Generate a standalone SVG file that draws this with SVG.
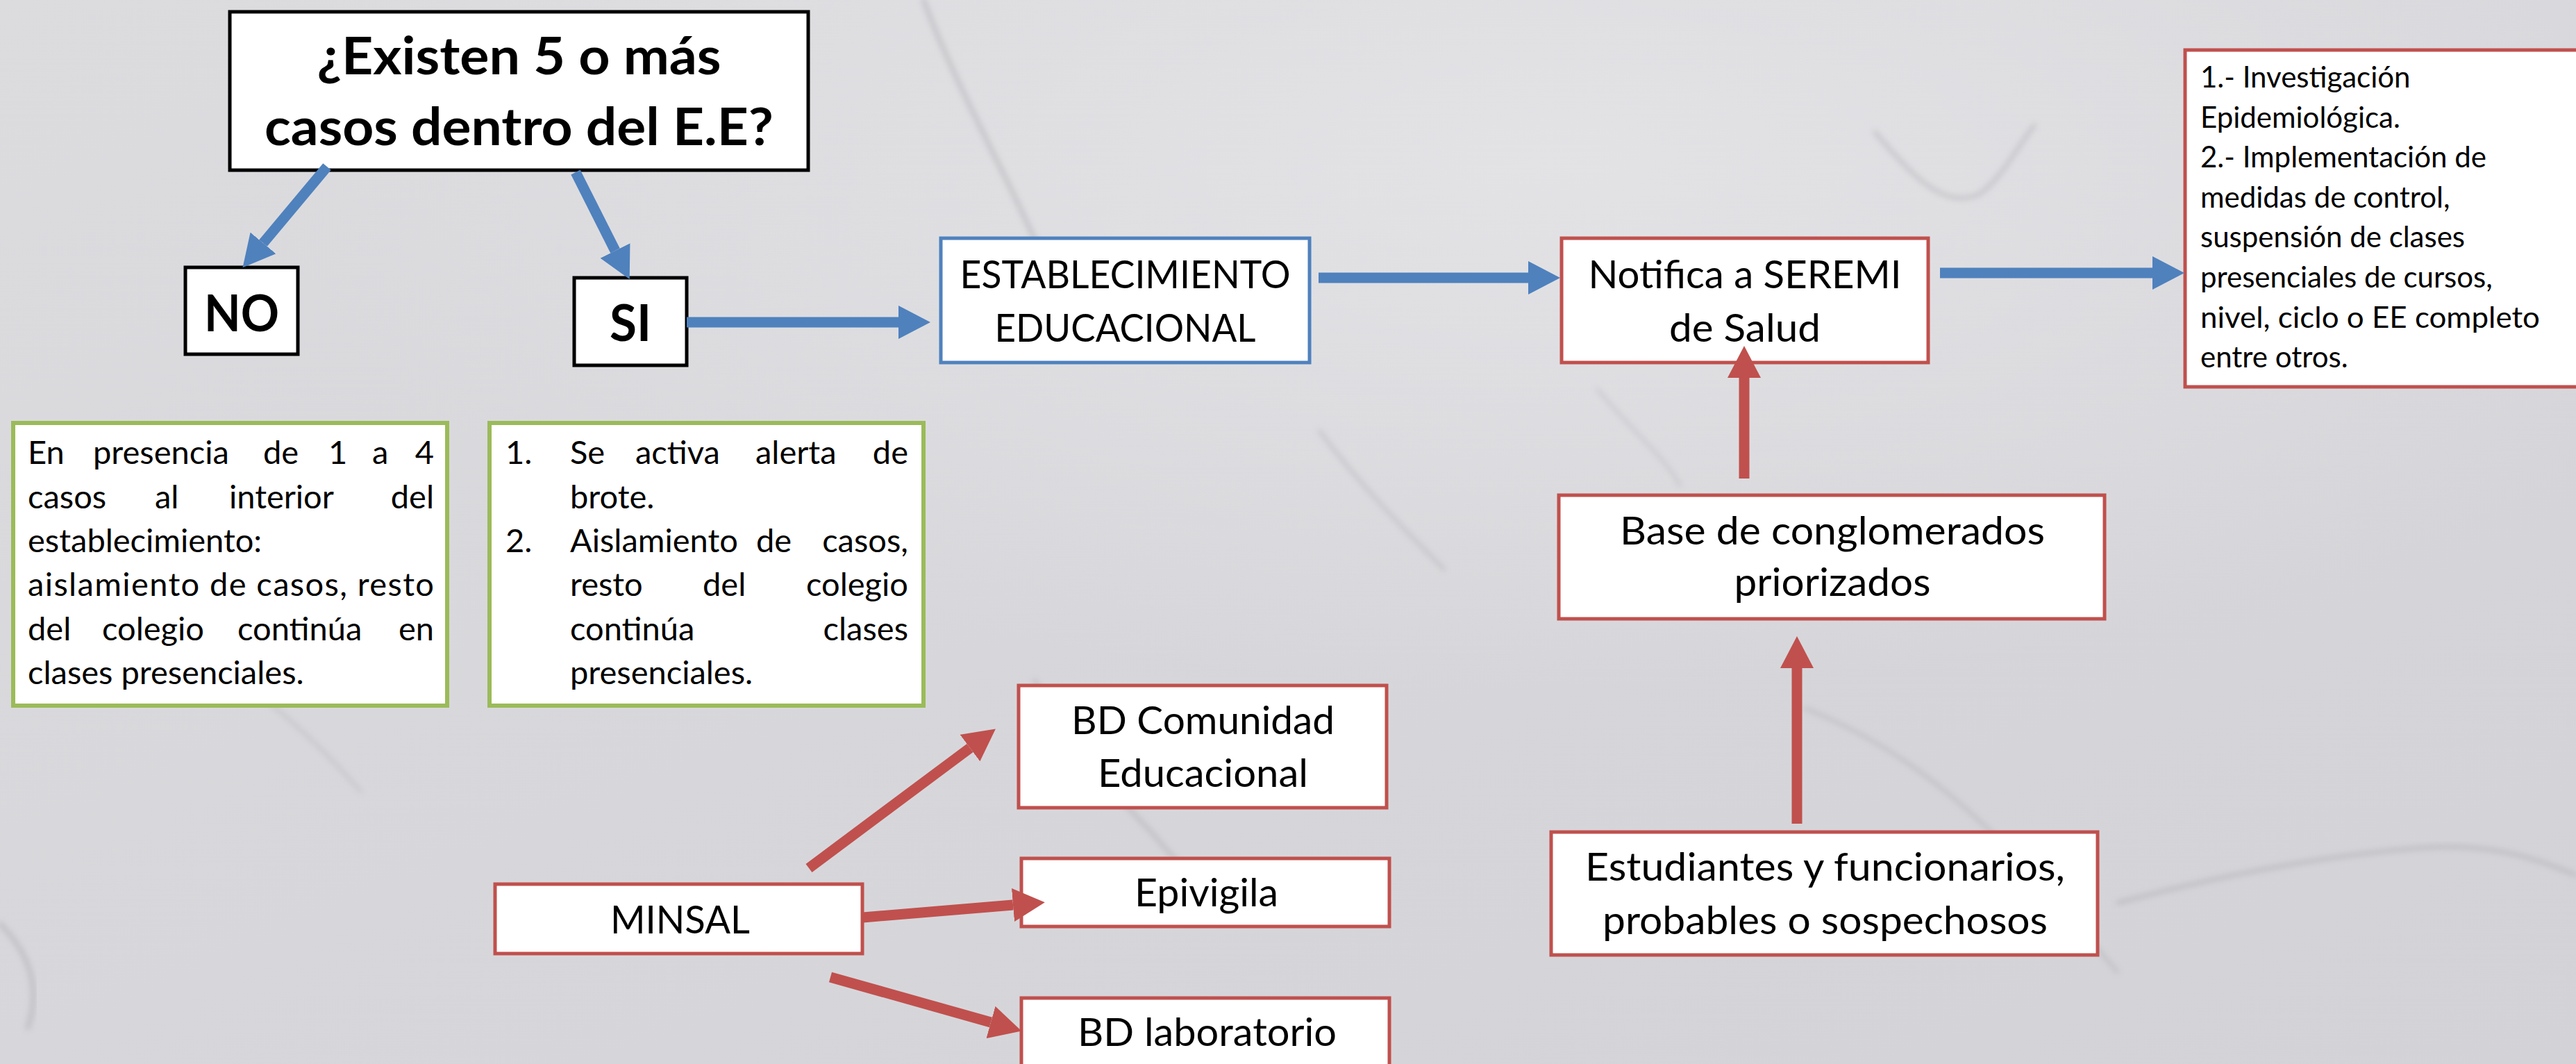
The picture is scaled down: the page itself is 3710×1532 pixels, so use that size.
<svg xmlns="http://www.w3.org/2000/svg" width="3710" height="1532" viewBox="0 0 3710 1532">
<style>
  .t { font-family: Lato, "Open Sans", "Liberation Sans", sans-serif; fill: #000; }
  .b { font-weight: bold; }
  .c { text-anchor: middle; }
  .e { text-anchor: end; }
  .kbox { fill: #fff; stroke: #000; stroke-width: 5; }
  .bbox { fill: #fff; stroke: #4F81BD; stroke-width: 5; }
  .rbox { fill: #fff; stroke: #C0504D; stroke-width: 5; }
  .gbox { fill: #fff; stroke: #9BBB59; stroke-width: 6; }
  .bl { fill: none; stroke: #4F81BD; stroke-width: 15; marker-end: url(#hb); }
  .rl { fill: none; stroke: #C0504D; stroke-width: 15; marker-end: url(#hr); }
  .vein { fill: none; stroke: #8a8a90; stroke-linecap: round; opacity: 0.35; filter: url(#blur); }
</style>
<defs>
  <linearGradient id="bg" x1="0" y1="0" x2="1" y2="1">
    <stop offset="0" stop-color="#dcdcdf"/>
    <stop offset="0.5" stop-color="#d7d7db"/>
    <stop offset="1" stop-color="#d3d3d7"/>
  </linearGradient>
  <radialGradient id="glow" cx="0.6" cy="0.15" r="0.5">
    <stop offset="0" stop-color="#e4e4e7" stop-opacity="0.9"/>
    <stop offset="1" stop-color="#e4e4e7" stop-opacity="0"/>
  </radialGradient>
  <filter id="blur" x="-10%" y="-10%" width="120%" height="120%"><feGaussianBlur stdDeviation="4"/></filter>
  <marker id="hb" markerUnits="userSpaceOnUse" markerWidth="46" markerHeight="48" viewBox="0 0 46 48" refX="0" refY="24" orient="auto">
    <path d="M0,0 L46,24 L0,48 Z" fill="#4F81BD"/>
  </marker>
  <marker id="hr" markerUnits="userSpaceOnUse" markerWidth="46" markerHeight="48" viewBox="0 0 46 48" refX="0" refY="24" orient="auto">
    <path d="M0,0 L46,24 L0,48 Z" fill="#C0504D"/>
  </marker>
</defs>

<g id="background">
  <rect x="0" y="0" width="3710" height="1532" fill="url(#bg)"/>
  <rect x="0" y="0" width="3710" height="1532" fill="url(#glow)"/>
  <path class="vein" stroke-width="6" d="M1330,0 C1360,80 1400,160 1450,260 C1490,340 1520,420 1560,470"/>
  <path class="vein" stroke-width="5" d="M2700,190 C2760,260 2800,300 2850,280 C2880,260 2900,220 2930,180"/>
  <path class="vein" stroke-width="5" d="M1490,980 C1540,1060 1600,1140 1660,1200 C1700,1250 1740,1280 1770,1320"/>
  <path class="vein" stroke-width="6" d="M0,1330 C40,1370 60,1420 40,1480"/>
  <path class="vein" stroke-width="4" d="M2600,1020 C2700,1060 2790,1120 2880,1210 C2940,1270 2990,1330 3050,1400"/>
  <path class="vein" stroke-width="5" d="M3050,1300 C3200,1260 3350,1230 3500,1220 C3600,1215 3660,1240 3710,1260"/>
  <path class="vein" stroke-width="3" d="M2300,560 C2350,620 2400,660 2420,700"/>
  <path class="vein" stroke-width="4" d="M1900,620 C1960,700 2020,760 2080,820"/>
  <path class="vein" stroke-width="3" d="M300,950 C380,1000 450,1060 520,1140"/>
</g>

<g id="node-pregunta">
  <rect class="kbox" x="331" y="17" width="833" height="228"/>
  <text class="t b c" x="747.5" y="107" font-size="75" textLength="582" lengthAdjust="spacingAndGlyphs">¿Existen 5 o más</text>
  <text class="t b c" x="747.5" y="209" font-size="75" textLength="733" lengthAdjust="spacingAndGlyphs">casos dentro del E.E?</text>
</g>

<g id="node-no">
  <rect class="kbox" x="267" y="385" width="162" height="125"/>
  <text class="t b c" x="348" y="477" font-size="73" textLength="108" lengthAdjust="spacingAndGlyphs">NO</text>
</g>

<g id="node-si">
  <rect class="kbox" x="827" y="400" width="162" height="126"/>
  <text class="t b c" x="908" y="491" font-size="73" textLength="60" lengthAdjust="spacingAndGlyphs">SI</text>
</g>

<g id="node-no-detalle">
  <rect class="gbox" x="19" y="609" width="625" height="407"/>
  <g class="t" font-size="47">
    <text x="40" y="668">En</text><text x="134" y="668">presencia</text><text x="379" y="668">de</text><text x="473" y="668">1</text><text x="536" y="668">a</text><text class="e" x="625" y="668">4</text>
    <text x="40" y="732">casos</text><text x="223" y="732">al</text><text x="330" y="732">interior</text><text class="e" x="625" y="732">del</text>
    <text x="40" y="795">establecimiento:</text>
    <text x="40" y="858" textLength="585" lengthAdjust="spacing">aislamiento de casos, resto</text>
    <text x="40" y="922">del</text><text x="147" y="922">colegio</text><text x="342" y="922">continúa</text><text class="e" x="625" y="922">en</text>
    <text x="40" y="985">clases presenciales.</text>
  </g>
</g>

<g id="node-si-detalle">
  <rect class="gbox" x="705" y="609" width="625" height="407"/>
  <g class="t" font-size="47">
    <text x="728" y="668">1.</text><text x="821" y="668">Se</text><text x="915" y="668">activa</text><text x="1088" y="668">alerta</text><text class="e" x="1308" y="668">de</text>
    <text x="821" y="732">brote.</text>
    <text x="728" y="795">2.</text><text x="821" y="795">Aislamiento</text><text x="1089" y="795">de</text><text class="e" x="1308" y="795">casos,</text>
    <text x="821" y="858">resto</text><text x="1012" y="858">del</text><text class="e" x="1308" y="858">colegio</text>
    <text x="821" y="922">continúa</text><text class="e" x="1308" y="922">clases</text>
    <text x="821" y="985">presenciales.</text>
  </g>
</g>

<g id="node-establecimiento">
  <rect class="bbox" x="1355" y="343" width="531" height="179"/>
  <text class="t c" x="1620.5" y="415" font-size="56" textLength="476" lengthAdjust="spacingAndGlyphs">ESTABLECIMIENTO</text>
  <text class="t c" x="1620.5" y="492" font-size="56" textLength="376" lengthAdjust="spacingAndGlyphs">EDUCACIONAL</text>
</g>

<g id="node-seremi">
  <rect class="rbox" x="2249" y="343" width="528" height="179"/>
  <text class="t c" x="2513" y="415" font-size="56" textLength="451" lengthAdjust="spacingAndGlyphs">Notifica a SEREMI</text>
  <text class="t c" x="2513" y="492" font-size="56" textLength="218" lengthAdjust="spacingAndGlyphs">de Salud</text>
</g>

<g id="node-medidas">
  <rect class="rbox" x="3147" y="72" width="580" height="485"/>
  <g class="t" font-size="42">
    <text x="3169" y="126">1.- Investigación</text>
    <text x="3169" y="183.6">Epidemiológica.</text>
    <text x="3169" y="241.2">2.- Implementación de</text>
    <text x="3169" y="298.8">medidas de control,</text>
    <text x="3169" y="356.4">suspensión de clases</text>
    <text x="3169" y="414">presenciales de cursos,</text>
    <text x="3169" y="471.6" textLength="489" lengthAdjust="spacingAndGlyphs">nivel, ciclo o EE completo</text>
    <text x="3169" y="529.2">entre otros.</text>
  </g>
</g>

<g id="node-base">
  <rect class="rbox" x="2245" y="713" width="786" height="178"/>
  <text class="t c" x="2639" y="784" font-size="56" textLength="612" lengthAdjust="spacingAndGlyphs">Base de conglomerados</text>
  <text class="t c" x="2639" y="858" font-size="56" textLength="283" lengthAdjust="spacingAndGlyphs">priorizados</text>
</g>

<g id="node-estudiantes">
  <rect class="rbox" x="2234" y="1198" width="787" height="177"/>
  <text class="t c" x="2628.5" y="1268" font-size="56" textLength="691" lengthAdjust="spacingAndGlyphs">Estudiantes y funcionarios,</text>
  <text class="t c" x="2628.5" y="1345" font-size="56" textLength="641" lengthAdjust="spacingAndGlyphs">probables o sospechosos</text>
</g>

<g id="node-minsal">
  <rect class="rbox" x="713" y="1273" width="529" height="100"/>
  <text class="t c" x="979.5" y="1344" font-size="56" textLength="201" lengthAdjust="spacingAndGlyphs">MINSAL</text>
</g>

<g id="node-bd-comunidad">
  <rect class="rbox" x="1467" y="987" width="530" height="176"/>
  <text class="t c" x="1732.5" y="1057" font-size="56" textLength="379" lengthAdjust="spacingAndGlyphs">BD Comunidad</text>
  <text class="t c" x="1732.5" y="1133" font-size="56" textLength="303" lengthAdjust="spacingAndGlyphs">Educacional</text>
</g>

<g id="node-epivigila">
  <rect class="rbox" x="1471" y="1236" width="530" height="98"/>
  <text class="t c" x="1737.5" y="1305" font-size="56" textLength="207" lengthAdjust="spacingAndGlyphs">Epivigila</text>
</g>

<g id="node-bd-laboratorio">
  <rect class="rbox" x="1471" y="1437" width="530" height="120"/>
  <text class="t c" x="1738.5" y="1506" font-size="56" textLength="373" lengthAdjust="spacingAndGlyphs">BD laboratorio</text>
</g>

<g id="connectors">
  <path class="bl" d="M471,240 L379,350"/>
  <path class="bl" d="M829,248 L886,361"/>
  <path class="bl" d="M989,464 L1294,464"/>
  <path class="bl" d="M1899,400 L2201,400"/>
  <path class="bl" d="M2794,393 L3100,393"/>
  <path class="rl" d="M2512,689 L2512,544"/>
  <path class="rl" d="M2588,1186 L2588,962"/>
  <path class="rl" d="M1165,1250 L1397,1077"/>
  <path class="rl" d="M1243,1321 L1459,1303"/>
  <path class="rl" d="M1196,1407 L1427,1472"/>
</g>
</svg>
